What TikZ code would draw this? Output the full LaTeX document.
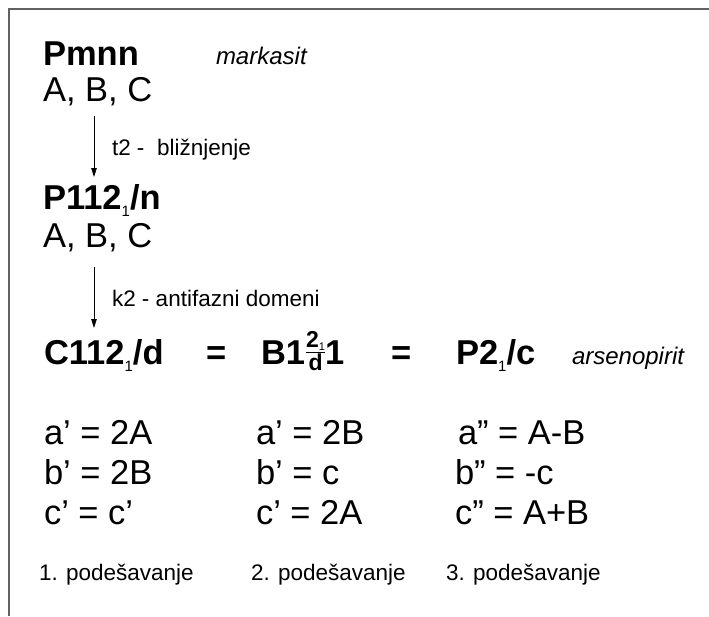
\documentclass[tikz,border=0pt]{standalone}
\usepackage{fontspec}
\setmainfont{Liberation Sans}
\usetikzlibrary{arrows.meta,calc}
\newcommand\subone{{\fontsize{15}{15}\selectfont\mdseries\raisebox{-7pt}{1}}}
\newcommand\tinysub{{\fontsize{11}{11}\selectfont\mdseries\raisebox{-3pt}{1}}}
\begin{document}
\begin{tikzpicture}[x=1pt,y=-1pt,
  txt/.style={inner sep=0pt, outer sep=0pt, anchor=base west},
  big/.style={txt, font=\fontsize{34.5}{40}\selectfont},
  bigb/.style={txt, font=\fontsize{34.5}{40}\selectfont\bfseries},
  lab/.style={txt, font=\fontsize{22.5}{26}\selectfont},
  ital/.style={txt, font=\fontsize{24}{28}\selectfont\itshape},
  fracb/.style={inner sep=0pt, outer sep=0pt, font=\fontsize{23}{24}\selectfont\bfseries},
  arr/.style={line width=0.8pt, -{Triangle[width=5.5pt,length=9pt]}},
  frame/.style={line width=1.5pt, draw=black!62},
]
\useasboundingbox (0,0) rectangle (709,616);
\fill[white] (0,0) rectangle (709,616);
\draw[frame] (709,9) -- (9,9) -- (9,616);

% top block
\node[bigb] (pmnn) at (43,65) {Pmnn};
\node[ital] (mark) at (216,64) {markasit};
\node[big] (abc1) at (43,101) {A, B, C};
\coordinate (a1s) at (94,116);
\coordinate (a1e) at (94,177);
\draw[arr] (a1s) -- (a1e);
\node[lab] (t2) at (112,155) {t2 -\ \ bližnjenje};

\node[bigb] (p112) at (43,209) {P112\subone/n};
\node[big] (abc2) at (43,247) {A, B, C};
\coordinate (a2s) at (94,267);
\coordinate (a2e) at (94,328);
\draw[arr] (a2s) -- (a2e);
\node[lab] (k2) at (112,306) {k2 - antifazni domeni};

% main equation row
\node[bigb] (c112) at (44,364) {C112\subone/d};
\node[bigb] (eq1) at (206,364) {=};
\node[bigb] (b1) at (261,364) {B1};
\coordinate (fb) at ($(b1.base east)+(1,-12)$);
\coordinate (fe) at ($(b1.base east)+(20,-12)$);
\draw[line width=1pt] (fb) -- (fe);
\node[fracb, anchor=south] (num) at ($(fb)!0.5!(fe)+(0,-2)$) {2\tinysub};
\node[fracb, anchor=north] (den) at ($(fb)!0.5!(fe)+(0,2)$) {d};
\node[bigb] (one) at ($(b1.base east)+(20,0)$) {1};
\node[bigb] (eq2) at (391,364) {=};
\node[bigb] (p21) at (456,364) {P2\subone/c};
\node[ital] (arsen) at (572,364) {arsenopirit};

% settings rows
\node[big] (r1a) at (44,444) {a’ = 2A};
\node[big] (r1b) at (44,484) {b’ = 2B};
\node[big] (r1c) at (44,524) {c’ = c’};
\node[big] (r2a) at (256,444) {a’ = 2B};
\node[big] (r2b) at (256,484) {b’ = c};
\node[big] (r2c) at (256,524) {c’ = 2A};
\node[big] (r3a) at (458,444) {a” = A-B};
\node[big] (r3b) at (455,484) {b” = -c};
\node[big] (r3c) at (455,524) {c” = A+B};

\node[lab] (s1) at (39,580) {1. podešavanje};
\node[lab] (s2) at (251,580) {2. podešavanje};
\node[lab] (s3) at (446,580) {3. podešavanje};
\end{tikzpicture}
\end{document}
